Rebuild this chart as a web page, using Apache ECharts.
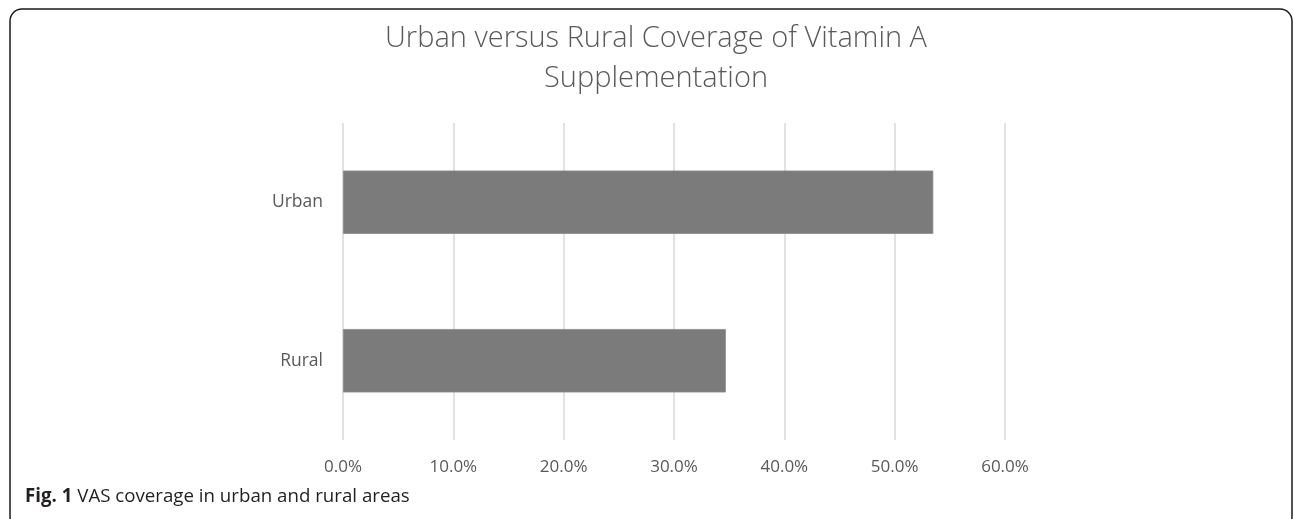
<!DOCTYPE html>
<html>
<head>
<meta charset="utf-8">
<script src="https://cdn.jsdelivr.net/npm/echarts@6/dist/echarts.min.js"></script>
<style>
html,body{margin:0;padding:0;background:#fff;}
#chart{width:1293px;height:519px;}
</style>
</head>
<body>
<div id="chart"></div>
<script>
const titleText = 'Urban versus Rural Coverage of Vitamin A\nSupplementation';
const categories = ['Rural', 'Urban'];
const coverage = [34.7, 53.5];
const xTicks = [0, 10, 20, 30, 40, 50, 60];
const captionBold = 'Fig. 1';
const captionText = ' VAS coverage in urban and rural areas';

const chart = echarts.init(document.getElementById('chart'), null, {renderer: 'canvas'});
chart.setOption({
  animation: false,
  backgroundColor: '#ffffff',
  title: {
    text: titleText,
    left: 651,
    textAlign: 'center',
    top: 14,
    textStyle: {
      fontFamily: 'Open Sans',
      fontWeight: 300,
      fontSize: 29,
      lineHeight: 40,
      color: '#595959'
    }
  },
  grid: {left: 343, right: 288, top: 123, bottom: 79, containLabel: false},
  xAxis: {
    type: 'value',
    min: xTicks[0],
    max: xTicks[xTicks.length - 1],
    interval: 10,
    axisLine: {show: false},
    axisTick: {show: false},
    splitLine: {lineStyle: {color: '#d9d9d9', width: 1.5}},
    axisLabel: {
      margin: 19,
      fontFamily: 'Open Sans',
      fontSize: 17,
      color: '#595959',
      formatter: v => v.toFixed(1) + '%'
    }
  },
  yAxis: {
    type: 'category',
    data: categories,
    axisLine: {show: false},
    axisTick: {show: false},
    axisLabel: {
      margin: 20,
      fontFamily: 'Open Sans',
      fontSize: 17.5,
      color: '#595959'
    }
  },
  series: [{
    type: 'bar',
    data: coverage,
    barCategoryGap: '60%',
    itemStyle: {color: '#7b7b7b', borderColor: '#8a8a8a', borderWidth: 0.8}
  }],
  graphic: [
    {
      type: 'rect',
      shape: {x: 10, y: 9, width: 1282, height: 520, r: 12},
      style: {fill: 'none', stroke: '#1a1a1a', lineWidth: 1.5},
      silent: true
    },
    {
      type: 'text',
      left: 25,
      top: 487,
      style: {
        text: '{b|' + captionBold + '}{n|' + captionText + '}',
        rich: {
          b: {fontFamily: 'Open Sans', fontWeight: 'bold', fontSize: 18.7, fill: '#231f20'},
          n: {fontFamily: 'Open Sans', fontSize: 18.7, fill: '#231f20'}
        }
      }
    }
  ]
});
</script>
</body>
</html>
